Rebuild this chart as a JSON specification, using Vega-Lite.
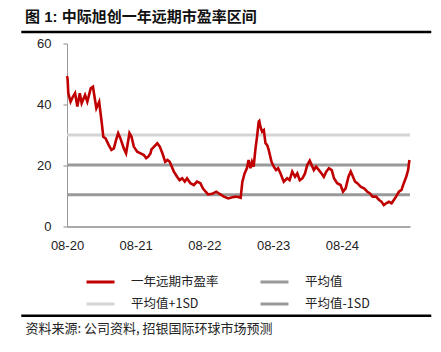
{
  "$schema": "https://vega.github.io/schema/vega-lite/v6.json",
  "width": 343,
  "height": 183,
  "autosize": {"type": "none"},
  "padding": {"left": 67, "top": 43.5, "right": 31, "bottom": 125.5},
  "background": "white",
  "config": {
    "view": {"stroke": null},
    "font": "Liberation Sans, Noto Sans CJK SC"
  },
  "title": {
    "text": "图 1: 中际旭创一年远期市盈率区间",
    "anchor": "start",
    "frame": "group",
    "dx": -42,
    "dy": 5,
    "offset": 11,
    "fontSize": 15,
    "fontWeight": "bold",
    "color": "#111111",
    "font": "Liberation Sans, Noto Sans CJK SC"
  },
  "datasets": {
    "pe": [
      {"date": "2020-08-01", "pe": 49.3},
      {"date": "2020-08-04", "pe": 48.5},
      {"date": "2020-08-08", "pe": 43.7},
      {"date": "2020-08-20", "pe": 40.9},
      {"date": "2020-09-02", "pe": 42.6},
      {"date": "2020-09-13", "pe": 43.7},
      {"date": "2020-09-25", "pe": 39.3},
      {"date": "2020-10-08", "pe": 43.7},
      {"date": "2020-10-18", "pe": 40.4},
      {"date": "2020-11-05", "pe": 43.1},
      {"date": "2020-11-17", "pe": 40.9},
      {"date": "2020-12-05", "pe": 45.3},
      {"date": "2020-12-17", "pe": 45.8},
      {"date": "2020-12-28", "pe": 41.5},
      {"date": "2021-01-04", "pe": 38.8},
      {"date": "2021-01-19", "pe": 40.9},
      {"date": "2021-02-02", "pe": 33.8},
      {"date": "2021-02-10", "pe": 29.4},
      {"date": "2021-02-22", "pe": 28.9},
      {"date": "2021-03-11", "pe": 26.7},
      {"date": "2021-03-25", "pe": 25.1},
      {"date": "2021-04-07", "pe": 25.6},
      {"date": "2021-04-19", "pe": 28.4},
      {"date": "2021-04-30", "pe": 30.6},
      {"date": "2021-05-12", "pe": 28.9},
      {"date": "2021-05-30", "pe": 25.6},
      {"date": "2021-06-11", "pe": 24.0},
      {"date": "2021-06-29", "pe": 30.6},
      {"date": "2021-07-10", "pe": 29.4},
      {"date": "2021-07-22", "pe": 26.2},
      {"date": "2021-08-09", "pe": 24.5},
      {"date": "2021-08-27", "pe": 24.0},
      {"date": "2021-09-14", "pe": 23.4},
      {"date": "2021-09-26", "pe": 22.4},
      {"date": "2021-10-07", "pe": 22.9},
      {"date": "2021-10-19", "pe": 24.0},
      {"date": "2021-10-24", "pe": 25.3},
      {"date": "2021-11-07", "pe": 26.2},
      {"date": "2021-11-24", "pe": 27.3},
      {"date": "2021-12-07", "pe": 26.2},
      {"date": "2021-12-21", "pe": 24.0},
      {"date": "2022-01-05", "pe": 21.2},
      {"date": "2022-01-17", "pe": 21.8},
      {"date": "2022-01-29", "pe": 21.2},
      {"date": "2022-02-09", "pe": 19.6},
      {"date": "2022-02-20", "pe": 18.0},
      {"date": "2022-03-09", "pe": 16.3},
      {"date": "2022-03-22", "pe": 15.2},
      {"date": "2022-04-05", "pe": 15.8},
      {"date": "2022-04-19", "pe": 14.7},
      {"date": "2022-05-01", "pe": 15.8},
      {"date": "2022-05-19", "pe": 14.2},
      {"date": "2022-06-06", "pe": 13.6},
      {"date": "2022-06-23", "pe": 14.7},
      {"date": "2022-07-11", "pe": 14.2},
      {"date": "2022-07-24", "pe": 12.5},
      {"date": "2022-08-08", "pe": 11.4},
      {"date": "2022-08-21", "pe": 10.5},
      {"date": "2022-09-12", "pe": 10.7},
      {"date": "2022-10-03", "pe": 11.4},
      {"date": "2022-10-21", "pe": 10.7},
      {"date": "2022-11-13", "pe": 9.8},
      {"date": "2022-12-06", "pe": 9.2},
      {"date": "2022-12-27", "pe": 9.6},
      {"date": "2023-01-18", "pe": 9.8},
      {"date": "2023-02-10", "pe": 9.4},
      {"date": "2023-02-19", "pe": 14.7},
      {"date": "2023-03-03", "pe": 17.4},
      {"date": "2023-03-15", "pe": 19.1},
      {"date": "2023-03-24", "pe": 21.8},
      {"date": "2023-04-03", "pe": 19.1},
      {"date": "2023-04-11", "pe": 21.2},
      {"date": "2023-04-20", "pe": 19.6},
      {"date": "2023-04-29", "pe": 25.1},
      {"date": "2023-05-08", "pe": 29.4},
      {"date": "2023-05-17", "pe": 34.4},
      {"date": "2023-05-20", "pe": 34.6},
      {"date": "2023-05-26", "pe": 32.7},
      {"date": "2023-06-04", "pe": 31.1},
      {"date": "2023-06-13", "pe": 31.6},
      {"date": "2023-06-22", "pe": 27.3},
      {"date": "2023-07-01", "pe": 26.7},
      {"date": "2023-07-09", "pe": 25.1},
      {"date": "2023-07-24", "pe": 21.2},
      {"date": "2023-08-05", "pe": 19.6},
      {"date": "2023-08-17", "pe": 18.5},
      {"date": "2023-08-28", "pe": 19.1},
      {"date": "2023-09-10", "pe": 17.4},
      {"date": "2023-09-27", "pe": 14.7},
      {"date": "2023-10-15", "pe": 15.8},
      {"date": "2023-10-28", "pe": 15.2},
      {"date": "2023-11-11", "pe": 18.0},
      {"date": "2023-11-26", "pe": 16.3},
      {"date": "2023-12-08", "pe": 17.4},
      {"date": "2023-12-21", "pe": 15.2},
      {"date": "2024-01-04", "pe": 15.8},
      {"date": "2024-01-18", "pe": 17.4},
      {"date": "2024-01-30", "pe": 20.2},
      {"date": "2024-02-12", "pe": 21.6},
      {"date": "2024-02-22", "pe": 20.2},
      {"date": "2024-03-05", "pe": 18.5},
      {"date": "2024-03-17", "pe": 19.6},
      {"date": "2024-04-01", "pe": 18.5},
      {"date": "2024-04-15", "pe": 17.4},
      {"date": "2024-04-27", "pe": 16.3},
      {"date": "2024-05-10", "pe": 18.0},
      {"date": "2024-05-24", "pe": 19.1},
      {"date": "2024-06-08", "pe": 18.5},
      {"date": "2024-06-20", "pe": 15.8},
      {"date": "2024-07-07", "pe": 14.2},
      {"date": "2024-07-25", "pe": 13.6},
      {"date": "2024-08-07", "pe": 11.4},
      {"date": "2024-08-21", "pe": 12.5},
      {"date": "2024-09-05", "pe": 16.3},
      {"date": "2024-09-17", "pe": 18.0},
      {"date": "2024-09-29", "pe": 16.3},
      {"date": "2024-10-10", "pe": 14.7},
      {"date": "2024-10-22", "pe": 14.2},
      {"date": "2024-11-10", "pe": 13.0},
      {"date": "2024-11-27", "pe": 12.5},
      {"date": "2024-12-14", "pe": 11.4},
      {"date": "2024-12-27", "pe": 10.9},
      {"date": "2025-01-11", "pe": 9.8},
      {"date": "2025-01-29", "pe": 9.8},
      {"date": "2025-02-15", "pe": 8.7},
      {"date": "2025-02-28", "pe": 8.1},
      {"date": "2025-03-12", "pe": 7.0},
      {"date": "2025-03-24", "pe": 7.6},
      {"date": "2025-04-08", "pe": 8.1},
      {"date": "2025-04-22", "pe": 7.6},
      {"date": "2025-05-04", "pe": 8.7},
      {"date": "2025-05-16", "pe": 9.8},
      {"date": "2025-05-31", "pe": 11.4},
      {"date": "2025-06-14", "pe": 12.0},
      {"date": "2025-06-26", "pe": 14.2},
      {"date": "2025-07-09", "pe": 16.3},
      {"date": "2025-07-19", "pe": 18.5},
      {"date": "2025-07-26", "pe": 21.8}
    ],
    "bands": [
      {"name": "平均值", "v": 20.2},
      {"name": "平均值+1SD", "v": 30.0},
      {"name": "平均值-1SD", "v": 10.4}
    ]
  },
  "layer": [
    {
      "data": {"name": "bands"},
      "mark": {"type": "rule", "strokeWidth": 3},
      "encoding": {
        "y": {"field": "v", "type": "quantitative"},
        "color": {
          "field": "name",
          "type": "nominal",
          "scale": {
            "domain": ["一年远期市盈率", "平均值+1SD", "平均值", "平均值-1SD"],
            "range": ["#C00000", "#D4D4D4", "#999999", "#999999"]
          },
          "legend": {
            "title": null,
            "orient": "none",
            "legendX": 18,
            "legendY": 223,
            "columns": 2,
            "columnPadding": 35,
            "rowPadding": -3,
            "padding": 0,
            "symbolType": "stroke",
            "symbolSize": 784,
            "symbolStrokeWidth": 3,
            "labelOffset": 15,
            "labelFont": "Noto Sans CJK SC",
            "labelFontSize": 12.5,
            "labelColor": "#222222",
            "labelLimit": 200
          }
        }
      }
    },
    {
      "data": {"name": "pe"},
      "mark": {"type": "line", "strokeWidth": 2.6, "interpolate": "linear"},
      "encoding": {
        "x": {
          "field": "date",
          "type": "temporal",
          "scale": {
            "type": "utc",
            "domain": [
              {"year": 2020, "month": 8, "date": 1, "utc": true},
              {"year": 2025, "month": 7, "date": 29, "utc": true}
            ]
          },
          "axis": {
            "title": "资料来源: 公司资料, 招银国际环球市场预测",
            "titleFont": "Noto Sans CJK SC",
            "titleFontSize": 13,
            "titleFontWeight": "normal",
            "titleColor": "#222222",
            "titleAnchor": "start",
            "titleAlign": "left",
            "titleX": -42,
            "titleY": 102,
            "titleBaseline": "middle",
            "values": [
              {"year": 2020, "month": 8, "date": 1, "utc": true},
              {"year": 2021, "month": 8, "date": 1, "utc": true},
              {"year": 2022, "month": 8, "date": 1, "utc": true},
              {"year": 2023, "month": 8, "date": 1, "utc": true},
              {"year": 2024, "month": 8, "date": 1, "utc": true}
            ],
            "format": "%m-%y",
            "ticks": false,
            "labelPadding": 13,
            "labelFontSize": 13,
            "labelColor": "#222222",
            "labelFlush": false,
            "grid": false,
            "domainColor": "#555555",
            "domainWidth": 1
          }
        },
        "y": {
          "field": "pe",
          "type": "quantitative",
          "scale": {"domain": [0, 60], "nice": false, "zero": true},
          "axis": {
            "title": null,
            "values": [0, 10, 20, 30, 40, 50, 60],
            "grid": false,
            "tickSize": 4,
            "tickColor": "#888888",
            "domainColor": "#999999",
            "labelPadding": 12,
            "labelFontSize": 13,
            "labelColor": "#222222"
          }
        },
        "color": {
          "datum": "一年远期市盈率",
          "type": "nominal",
          "scale": {
            "domain": ["一年远期市盈率", "平均值+1SD", "平均值", "平均值-1SD"],
            "range": ["#C00000", "#D4D4D4", "#999999", "#999999"]
          },
          "legend": {
            "title": null,
            "orient": "none",
            "legendX": 18,
            "legendY": 223,
            "columns": 2,
            "columnPadding": 35,
            "rowPadding": -3,
            "padding": 0,
            "symbolType": "stroke",
            "symbolSize": 784,
            "symbolStrokeWidth": 3,
            "labelOffset": 15,
            "labelFont": "Noto Sans CJK SC",
            "labelFontSize": 12.5,
            "labelColor": "#222222",
            "labelLimit": 200
          }
        }
      }
    },
    {
      "data": {"values": [{}]},
      "mark": {"type": "rule", "strokeWidth": 2.5, "color": "#000000"},
      "encoding": {
        "x": {"datum": {"year": 2019, "month": 12, "date": 2, "utc": true}, "type": "temporal"},
        "x2": {"datum": {"year": 2025, "month": 11, "date": 19, "utc": true}},
        "y": {"datum": 63.8, "type": "quantitative"}
      }
    },
    {
      "data": {"values": [{}]},
      "mark": {"type": "rule", "strokeWidth": 2.5, "color": "#000000"},
      "encoding": {
        "x": {"datum": {"year": 2019, "month": 12, "date": 2, "utc": true}, "type": "temporal"},
        "x2": {"datum": {"year": 2025, "month": 11, "date": 19, "utc": true}},
        "y": {"datum": -29.3, "type": "quantitative"}
      }
    }
  ]
}
